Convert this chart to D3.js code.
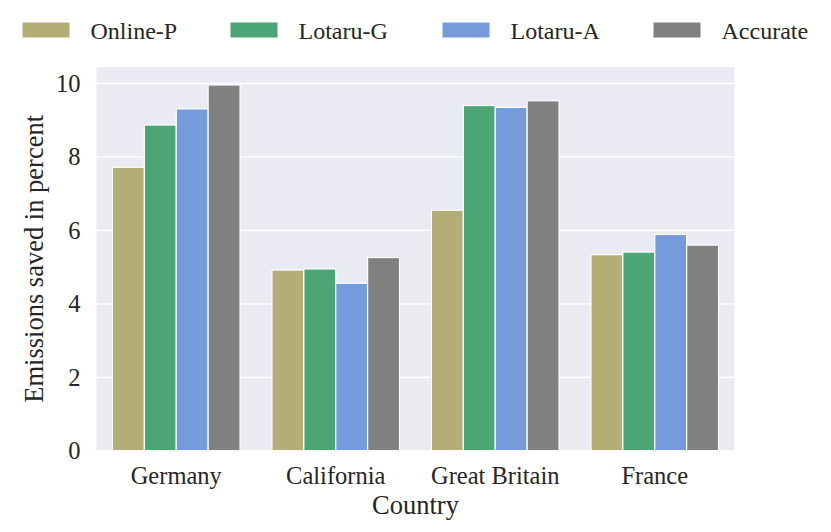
<!DOCTYPE html>
<html>
<head>
<meta charset="utf-8">
<script src="https://cdn.jsdelivr.net/npm/d3@7"></script>
</head>
<body style="margin:0">
<div id="chart"></div>
<script>
const width = 831, height = 532;
const fontStack = '"Liberation Serif", serif';

const countries = ["Germany", "California", "Great Britain", "France"];
const methods = ["Online-P", "Lotaru-G", "Lotaru-A", "Accurate"];
const onlineP = [7.72, 4.92, 6.55, 5.34];
const lotaruG = [8.87, 4.95, 9.40, 5.41];
const lotaruA = [9.31, 4.56, 9.35, 5.89];
const accurate = [9.96, 5.26, 9.53, 5.60];
const yTicks = [0, 2, 4, 6, 8, 10];

const colors = ["#b3ae76", "#4ba574", "#759bdb", "#808080"];
const seriesValues = [onlineP, lotaruG, lotaruA, accurate];

const plot = { left: 96.5, right: 734.5, top: 67, bottom: 450.7 };

const svg = d3.select("#chart").append("svg")
    .attr("width", width)
    .attr("height", height);

const x = d3.scaleBand()
    .domain(countries)
    .range([plot.left, plot.right])
    .padding(0);

const xInner = d3.scaleBand()
    .domain(methods)
    .range([x.bandwidth() * 0.1, x.bandwidth() * 0.9])
    .padding(0);

const y = d3.scaleLinear()
    .domain([0, 10.45])
    .range([plot.bottom, plot.top]);

const color = d3.scaleOrdinal().domain(methods).range(colors);

// background
svg.append("rect")
    .attr("x", plot.left)
    .attr("y", plot.top)
    .attr("width", plot.right - plot.left)
    .attr("height", plot.bottom - plot.top)
    .attr("fill", "#eaeaf2");

// horizontal grid
svg.append("g")
    .selectAll("line")
    .data(yTicks)
    .enter().append("line")
    .attr("x1", plot.left)
    .attr("x2", plot.right)
    .attr("y1", d => y(d))
    .attr("y2", d => y(d))
    .attr("stroke", "#fff")
    .attr("stroke-width", 1.3);

// bars
const rows = [];
countries.forEach((c, i) => {
    methods.forEach((m, j) => {
        rows.push({ country: c, method: m, value: seriesValues[j][i] });
    });
});

svg.append("g")
    .selectAll("rect")
    .data(rows)
    .enter().append("rect")
    .attr("x", d => x(d.country) + xInner(d.method))
    .attr("y", d => y(d.value))
    .attr("width", xInner.bandwidth())
    .attr("height", d => y(0) - y(d.value))
    .attr("fill", d => color(d.method))
    .attr("stroke", "#fff")
    .attr("stroke-width", 1.2);

// y axis
const yAxis = svg.append("g")
    .attr("transform", `translate(${plot.left},0)`)
    .call(d3.axisLeft(y).tickValues(yTicks).tickSize(0).tickPadding(16));
yAxis.attr("font-family", fontStack).attr("font-size", 24.5);
yAxis.select(".domain").remove();
yAxis.selectAll("text").attr("fill", "#262626");

// x axis
const xAxis = svg.append("g")
    .attr("transform", `translate(0,${plot.bottom})`)
    .call(d3.axisBottom(x).tickSize(0).tickPadding(0));
xAxis.attr("font-family", fontStack).attr("font-size", 24.5);
xAxis.select(".domain").remove();
xAxis.selectAll("text")
    .attr("dy", null)
    .attr("y", 33.5)
    .attr("fill", "#262626");

// axis labels
svg.append("text")
    .attr("x", (plot.left + plot.right) / 2)
    .attr("y", 514)
    .attr("text-anchor", "middle")
    .attr("fill", "#262626")
    .attr("font-family", fontStack)
    .attr("font-size", 26.5)
    .text("Country");

svg.append("text")
    .attr("transform", `translate(43,${(plot.top + plot.bottom) / 2}) rotate(-90)`)
    .attr("text-anchor", "middle")
    .attr("fill", "#262626")
    .attr("font-family", fontStack)
    .attr("font-size", 26.5)
    .text("Emissions saved in percent");

// legend
const legendX = [22, 230, 442, 653];
const legend = svg.append("g")
    .selectAll("g")
    .data(methods)
    .enter().append("g")
    .attr("transform", (d, i) => `translate(${legendX[i]},22)`);

legend.append("rect")
    .attr("width", 48)
    .attr("height", 16)
    .attr("fill", d => color(d))
    .attr("stroke", "#fff")
    .attr("stroke-width", 1);

legend.append("text")
    .attr("x", 68.5)
    .attr("y", 17.3)
    .attr("fill", "#262626")
    .attr("font-family", fontStack)
    .attr("font-size", 24)
    .text(d => d);
</script>
</body>
</html>
